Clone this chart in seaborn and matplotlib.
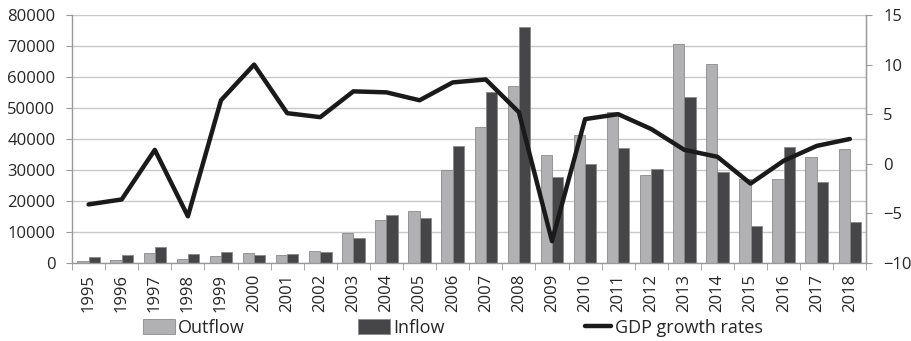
import numpy as np
import pandas as pd
import matplotlib
matplotlib.use("Agg")
import matplotlib.pyplot as plt
import seaborn as sns
from matplotlib.patches import Patch
from matplotlib.lines import Line2D

# Data
years = [str(y) for y in range(1995, 2019)]
outflow = [700, 1000, 3300, 1300, 2300, 3300, 2500, 3700, 9700, 13800, 16800, 30000,
           44000, 57000, 34700, 41300, 48700, 28500, 70800, 64300, 27000, 27000, 34300, 36600]
inflow = [2000, 2600, 5000, 2800, 3400, 2700, 2900, 3500, 7900, 15400, 14400, 37600,
          55000, 76000, 27700, 31800, 37000, 30200, 53500, 29200, 11900, 37300, 26100, 13300]
gdp = [-4.1, -3.6, 1.4, -5.3, 6.4, 10.0, 5.1, 4.7, 7.3, 7.2, 6.4, 8.2,
       8.5, 5.2, -7.8, 4.5, 5.0, 3.5, 1.4, 0.7, -2.0, 0.3, 1.8, 2.5]

df = pd.DataFrame({'year': years * 2,
                   'value': outflow + inflow,
                   'kind': ['Outflow'] * len(years) + ['Inflow'] * len(years)})

sns.set_style("white")
plt.rcParams['font.family'] = ['Open Sans', 'DejaVu Sans']

c_out = '#b1b1b4'
c_in = '#464648'
grid_c = '#c8c8c8'
axis_c = '#999999'

fig = plt.figure(figsize=(9.12, 3.41), dpi=100)
ax = fig.add_axes([0.079, 0.229, 0.871, 0.727])

sns.barplot(data=df, x='year', y='value', hue='kind', order=years,
            palette={'Outflow': c_out, 'Inflow': c_in}, width=0.68, gap=0,
            saturation=1, ax=ax, legend=False, edgecolor='#8a8a8a', linewidth=0.6)

ax.set_ylim(0, 80000)
ax.set_yticks(range(0, 80001, 10000))
ax.set_xlim(-0.5, len(years) - 0.5)
ax.yaxis.grid(True, color=grid_c, linewidth=1)
ax.set_axisbelow(True)
ax.set_xlabel('')
ax.set_ylabel('')
ax.tick_params(axis='y', labelsize=12, length=4, color=axis_c, left=True, pad=8)
ax.tick_params(axis='x', labelsize=12, rotation=90, length=0, pad=8)
ax.set_xticks(np.arange(len(years) + 1) - 0.5, minor=True)
ax.tick_params(axis='x', which='minor', length=5, color=axis_c, bottom=True)
ax.spines['top'].set_visible(False)
for s in ['left', 'right', 'bottom']:
    ax.spines[s].set_color(axis_c)
    ax.spines[s].set_linewidth(1)

ax2 = ax.twinx()
sns.lineplot(x=np.arange(len(years)), y=gdp, ax=ax2, color='#1a1a1a', linewidth=3.2)
ax2.set_ylim(-10, 15)
ax2.set_yticks(range(-10, 16, 5))
ax2.tick_params(axis='y', labelsize=12, length=4, color=axis_c, right=True, pad=8)
for s in ['top', 'left', 'bottom']:
    ax2.spines[s].set_visible(False)
ax2.spines['right'].set_color(axis_c)

# legend entries placed like the reference (three separate groups)
entries = [
    (Patch(facecolor=c_out, edgecolor='#8a8a8a', linewidth=0.6), 'Outflow', 143, 1.75),
    (Patch(facecolor=c_in, edgecolor='#8a8a8a', linewidth=0.6), 'Inflow', 358, 1.75),
    (Line2D([0], [0], color='#1a1a1a', linewidth=3.2), 'GDP growth rates', 585, 1.45),
]
for h, lab, xpix, hl in entries:
    fig.legend([h], [lab], loc='center left', bbox_to_anchor=(xpix / 912, 1 - 328 / 341),
               frameon=False, fontsize=13, borderpad=0, borderaxespad=0,
               handlelength=hl, handleheight=0.9, handletextpad=0.2)

fig.savefig('out.png', dpi=100)
